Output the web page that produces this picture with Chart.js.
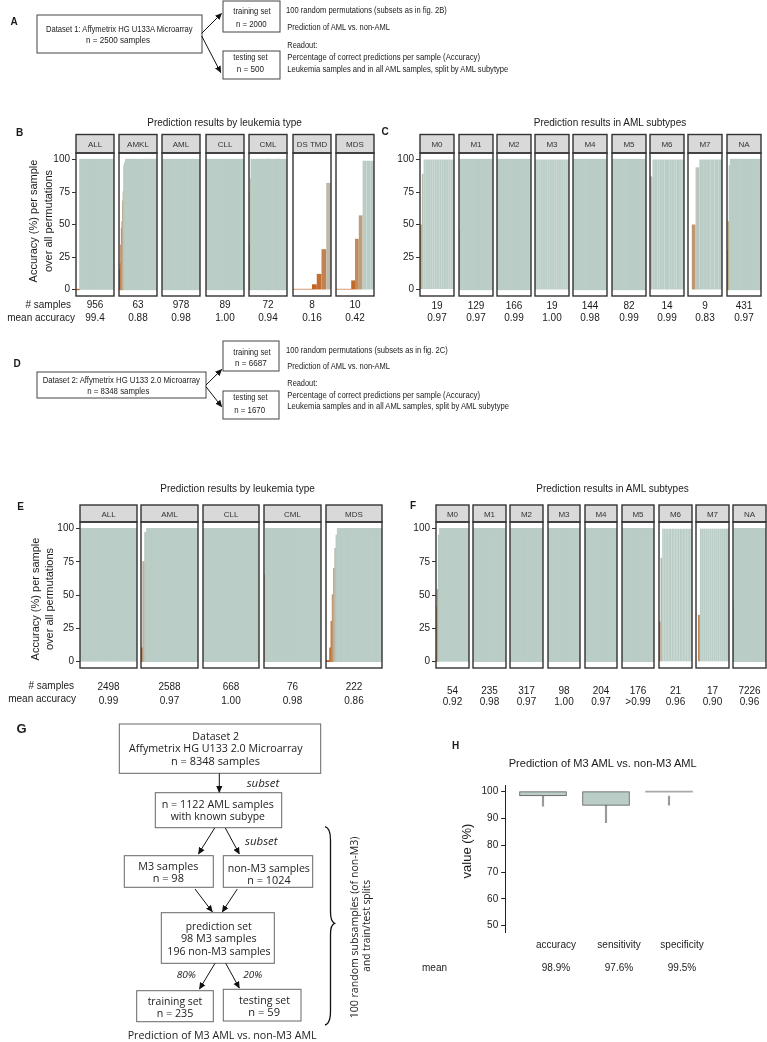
<!DOCTYPE html>
<html><head><meta charset="utf-8">
<script src="https://cdn.jsdelivr.net/npm/chart.js@4.4.1/dist/chart.umd.min.js"></script>
<style>
html,body{margin:0;padding:0;background:#fff;}
#page{position:relative;width:767px;height:1042px;overflow:hidden;background:#fff;}
#page canvas{position:absolute;display:block;z-index:1;}
#overlay{position:absolute;left:0;top:0;z-index:5;pointer-events:none;}
</style></head>
<body><div id="page"><svg id="overlay" width="767" height="1042" xmlns="http://www.w3.org/2000/svg"></svg></div>
<script>
// ================= DATA =================
const yTicks = [0, 25, 50, 75, 100];

// Panel B – Dataset 1, by leukemia type (per-sample accuracy, sorted; large groups shown as a representative subset)
const bCategories = ['ALL','AMKL','AML','CLL','CML','DS TMD','MDS'];
const bSamples = ['956','63','978','89','72','8','10'];
const bMeanAcc = ['99.4','0.88','0.98','1.00','0.94','0.16','0.42'];
const bAccuracy = [
  [0,0,0,100,100,100,100,100,100,100,100,100,100,100,100,100,100,100,100,100,100,100,100,100,100,100,100,100,100,100],
  [3,15,20,34,47,52,68,75,95,97,98,100,100,100,100,100,100,100,100,100,100,100,100,100,100,100,100,100,100,100,99,100,100,100,100,100,100,100,100,100,100,100,100,100,100,100,100,100,100,100,100,100,100,100,100,100,100,100,100,100,100,100,100],
  [100,100,100,100,100,100,100,100,100,100,100,100,100,100,100,100,100,100,100,100,100,100,100,100,100,100,100,100,100,100],
  [100,100,100,100,100,100,100,100,100,100,100,100,100,100,100,100,100,100,100,100,100,100,100,100,100,100,100,100,100,100],
  [4,35,75,85,100,100,100,100,100,100,100,100,100,100,100,100,100,100,100,100,100,100,100,100,100,100,100,100,100,100,100,100,100,100,100,100,100,100,100,100,100,100,100,100,100,100,100,100,100,100,100,100,100,100,100,100,100,100,100,100,100,100,100,100,100,100,100,100,100,100,100,100],
  [0.5,0.5,0.5,0.5,4,12,31,82],
  [0.5,0.5,0.5,0.5,7,39,57,99,99,99]
];

// Panel C – Dataset 1, AML subtypes
const cCategories = ['M0','M1','M2','M3','M4','M5','M6','M7','NA'];
const cSamples = ['19','129','166','19','144','82','14','9','431'];
const cMeanAcc = ['0.97','0.97','0.99','1.00','0.98','0.99','0.99','0.83','0.97'];
const cAccuracy = [
  [50,89,100,100,100,100,100,100,100,100,100,100,100,100,100,100,100,100,100],
  [45,100,100,100,100,100,100,100,100,100,100,100,100,100,100,100,100,100,100,100,100,100,100,100,100,100,100,100,100,100],
  [100,100,100,100,100,100,100,100,100,100,100,100,100,100,100,100,100,100,100,100,100,100,100,100,100,100,100,100,100,100],
  [100,100,100,100,100,100,100,100,100,100,100,100,100,100,100,100,100,100,100],
  [100,100,100,100,100,100,100,100,100,100,100,100,100,100,100,100,100,100,100,100,100,100,100,100,100,100,100,100,100,100],
  [100,100,100,100,100,100,100,100,100,100,100,100,100,100,100,100,100,100,100,100,100,100,100,100,100,100,100,100,100,100],
  [87,100,100,100,100,100,100,100,100,100,100,100,100,100],
  [0,50,94,100,100,100,100,100,100],
  [30,52,95,100,100,100,100,100,100,100,100,100,100,100,100,100,100,100,100,100,100,100,100,100,100,100,100,100,100,100]
];

// Panel E – Dataset 2, by leukemia type
const eCategories = ['ALL','AML','CLL','CML','MDS'];
const eSamples = ['2498','2588','668','76','222'];
const eMeanAcc = ['0.99','0.97','1.00','0.98','0.86'];
const eAccuracy = [
  [100,100,100,100,100,100,100,100,100,100,100,100,100,100,100,100,100,100,100,100,100,100,100,100,100,100,100,100,100,100],
  [10,75,97,100,100,100,100,100,100,100,100,100,100,100,100,100,100,100,100,100,100,100,100,100,100,100,100,100,100,100],
  [100,100,100,100,100,100,100,100,100,100,100,100,100,100,100,100,100,100,100,100,100,100,100,100,100,100,100,100,100,100],
  [65,100,100,100,100,100,100,100,100,100,100,100,100,100,100,100,100,100,100,100,100,100,100,100,100,100,100,100,100,100,100,100,100,100,100,100,100,100],
  [0.3,0.3,0.3,10,30,50,70,85,95,100,100,100,100,100,100,100,100,100,100,100,100,100,100,100,100,100,100,100,100,100,100,100,100,100,100,100,100,100,100,100,100,100,100,100]
];

// Panel F – Dataset 2, AML subtypes
const fCategories = ['M0','M1','M2','M3','M4','M5','M6','M7','NA'];
const fSamples = ['54','235','317','98','204','176','21','17','7226'];
const fMeanAcc = ['0.92','0.98','0.97','1.00','0.97','>0.99','0.96','0.90','0.96'];
const fAccuracy = [
  [41,54,95,100,100,100,100,100,100,100,100,100,100,100,100,100,100,100,100,100,100,100,100,100,100,100,100],
  [100,100,100,100,100,100,100,100,100,100,100,100,100,100,100,100,100,100,100,100,100,100,100,100,100,100,100,100,100,100],
  [100,100,100,100,100,100,100,100,100,100,100,100,100,100,100,100,100,100,100,100,100,100,100,100,100,100,100,100,100,100],
  [100,100,100,100,100,100,100,100,100,100,100,100,100,100,100,100,100,100,100,100,100,100,100,100,100,100,100,100,100,100],
  [100,100,100,100,100,100,100,100,100,100,100,100,100,100,100,100,100,100,100,100,100,100,100,100,100,100,100,100,100,100],
  [100,100,100,100,100,100,100,100,100,100,100,100,100,100,100,100,100,100,100,100,100,100,100,100,100,100,100,100,100,100],
  [30,78,100,100,100,100,100,100,100,100,100,100,100,100,100,100,100,100,100,100,100],
  [0,35,100,100,100,100,100,100,100,100,100,100,100,100,100,100,100],
  [45,100,100,100,100,100,100,100,100,100,100,100,100,100,100,100,100,100,100,100,100,100,100,100,100,100,100,100,100,100]
];

// Panel H – M3 vs non-M3 box plot
const hCategories = ['accuracy','sensitivity','specificity'];
const hBoxLow = [98.4, 94.9, 99.8];
const hBoxHigh = [100, 100, 100.2];
const hWhiskerLow = [94.6, 88.4, 95.0];
const hWhiskerHigh = [98.4, 94.9, 98.4];
const hMeans = ['98.9%','97.6%','99.5%'];
const hTicks = [50, 60, 70, 80, 90, 100];

// ================= DRAWING =================
const FONT = "Liberation Sans, Arial, Helvetica, sans-serif";
Chart.defaults.font.family = FONT;
const page = document.getElementById('page');
const svg = [];
function esc(s){return String(s).replace(/&/g,'&amp;').replace(/</g,'&lt;').replace(/>/g,'&gt;');}
function txt(x,y,s,o={}){
  const a=[`x="${x}"`,`y="${y}"`,`dominant-baseline="central"`,`text-anchor="${o.anchor||'middle'}"`,
    `font-size="${o.size||10}"`,`font-family="${o.family||FONT}"`,`fill="${o.fill||'#1a1a1a'}"`];
  if(o.weight) a.push(`font-weight="${o.weight}"`);
  if(o.style) a.push(`font-style="${o.style}"`);
  if(o.len) a.push(`textLength="${o.len}" lengthAdjust="spacingAndGlyphs"`);
  if(o.rot) a.push(`transform="rotate(${o.rot} ${x} ${y})"`);
  svg.push(`<text ${a.join(' ')}>${esc(s)}</text>`);
}
function rect(x,y,w,h,o={}){
  svg.push(`<rect x="${x}" y="${y}" width="${w}" height="${h}" fill="${o.fill||'none'}" stroke="${o.stroke||'#444'}" stroke-width="${o.sw||1}"/>`);
}
function arrow(x1,y1,x2,y2){
  svg.push(`<line x1="${x1}" y1="${y1}" x2="${x2}" y2="${y2}" stroke="#111" stroke-width="1" marker-end="url(#ah)"/>`);
}
const C0=[196,96,28], C1=[186,205,198];
function accColor(v){
  const t=Math.max(0,Math.min(1,v/100));
  const c=C0.map((a,i)=>Math.round(a+(C1[i]-a)*t));
  return `rgb(${c[0]},${c[1]},${c[2]})`;
}

function facetGroup(cats, counts, means, acc, L){
  for(let i=0;i<cats.length;i++){
    const l=Math.round(L.left0+i*L.step), r=Math.round(L.left0+i*L.step+L.w), w=r-l;
    const top=Math.round(L.panelTop), bot=Math.round(L.panelBottom), h=bot-top;
    const first=i===0, AX=44;
    const cl=first?l-AX:l, cw=first?w+AX:w;
    const cv=document.createElement('canvas');
    cv.width=cw; cv.height=h;
    Object.assign(cv.style,{left:cl+'px',top:top+'px',width:cw+'px',height:h+'px'});
    page.appendChild(cv);
    const vals=acc[i];
    new Chart(cv,{
      type:'bar',
      data:{labels:vals.map((v,k)=>k+1),datasets:[{data:vals,backgroundColor:vals.map(accColor),borderWidth:0,
        barPercentage:1,categoryPercentage:1,inflateAmount:L.seams.includes(i)?0:0.6}]},
      options:{responsive:false,animation:false,devicePixelRatio:1,events:[],layout:{padding:0},
        plugins:{legend:{display:false},tooltip:{enabled:false}},
        scales:{
          x:{display:false,offset:true},
          y:{display:first,min:-5,max:105,position:'left',
            afterBuildTicks:s=>{s.ticks=yTicks.map(v=>({value:v}));},
            afterFit:s=>{s.width=first?AX:0;s.paddingTop=0;s.paddingBottom=0;},
            ticks:{font:{size:10,family:FONT},color:'#222',padding:2},
            grid:{drawOnChartArea:false,drawTicks:true,tickLength:4,color:'#333',lineWidth:1},
            border:{display:false}}
        }}
    });
    rect(l,L.stripTop,w,top-L.stripTop,{fill:'#d9d9d9',stroke:'#333',sw:1.4});
    rect(l,top,w,h,{stroke:'#333',sw:1.4});
    txt(l+w/2,(L.stripTop+top)/2+0.5,cats[i],{size:8,fill:'#333'});
    txt(l+w/2,L.countY,counts[i],{size:10});
    txt(l+w/2,L.meanY,means[i],{size:10});
  }
}

facetGroup(bCategories,bSamples,bMeanAcc,bAccuracy,{left0:75.5,step:43.4,w:38,stripTop:134.5,panelTop:153,panelBottom:296,countY:304.3,meanY:317.3,seams:[5,6]});
facetGroup(cCategories,cSamples,cMeanAcc,cAccuracy,{left0:420.2,step:38.3,w:34,stripTop:134.5,panelTop:153,panelBottom:296,countY:305,meanY:317.5,seams:[0,3,6,7]});
facetGroup(eCategories,eSamples,eMeanAcc,eAccuracy,{left0:80,step:61.4,w:56.5,stripTop:505,panelTop:522,panelBottom:668,countY:686.7,meanY:700,seams:[]});
facetGroup(fCategories,fSamples,fMeanAcc,fAccuracy,{left0:436,step:37.17,w:32.5,stripTop:505,panelTop:522,panelBottom:668,countY:690,meanY:701.3,seams:[6,7]});

// Titles, axis titles, row labels
txt(224.5,122.7,'Prediction results by leukemia type',{size:10});
txt(610,122.7,'Prediction results in AML subtypes',{size:10});
txt(237.5,488.3,'Prediction results by leukemia type',{size:10});
txt(612.5,488.3,'Prediction results in AML subtypes',{size:10});
txt(33,221,'Accuracy (%) per sample',{size:11,rot:-90});
txt(48,221,'over all permutations',{size:11,rot:-90});
txt(35,599,'Accuracy (%) per sample',{size:11,rot:-90});
txt(49,599,'over all permutations',{size:11,rot:-90});
txt(71,304.3,'# samples',{size:10,anchor:'end'});
txt(75,317.3,'mean accuracy',{size:10,anchor:'end'});
txt(74,685,'# samples',{size:10,anchor:'end'});
txt(76,698.3,'mean accuracy',{size:10,anchor:'end'});

// Panel letters
txt(14,21,'A',{size:10,weight:'bold'});
txt(19.5,132,'B',{size:10,weight:'bold'});
txt(385,131,'C',{size:10,weight:'bold'});
txt(17,363.5,'D',{size:10,weight:'bold'});
txt(20.5,506,'E',{size:10,weight:'bold'});
txt(413,505.8,'F',{size:10,weight:'bold'});
txt(21.5,728.5,'G',{size:13,weight:'bold'});
txt(455.5,745,'H',{size:10,weight:'bold'});

// Panel A diagram
const DF = "Liberation Sans, Arial, sans-serif";
rect(37,15,165,38); rect(223,1,57,31); rect(223,51,57,28);
txt(119.3,28.3,'Dataset 1: Affymetrix HG U133A Microarray',{size:9.5,family:DF,len:146.7});
txt(118,39.3,'n = 2500 samples',{size:9.5,family:DF,len:64});
txt(252,10.7,'training set',{size:9.5,family:DF,len:37.3});
txt(251.3,23.3,'n = 2000',{size:9.5,family:DF,len:30.7});
txt(250.5,56,'testing set',{size:9.5,family:DF,len:34.3});
txt(250.3,68.3,'n = 500',{size:9.5,family:DF,len:27.3});
arrow(201.7,33.3,221.5,13.5); arrow(201.7,36,220.7,72.5);
txt(286,9.3,'100 random permutations (subsets as in fig. 2B)',{size:9.5,family:DF,anchor:'start',len:160.7});
txt(287.3,26.7,'Prediction of AML vs. non-AML',{size:9.5,family:DF,anchor:'start',len:102.7});
txt(287.3,44,'Readout:',{size:9.5,family:DF,anchor:'start',len:30});
txt(287.3,56.7,'Percentage of correct predictions per sample (Accuracy)',{size:9.5,family:DF,anchor:'start',len:192.7});
txt(287.3,68.3,'Leukemia samples and in all AML samples, split by AML subytype',{size:9.5,family:DF,anchor:'start',len:221});

// Panel D diagram
rect(37,372,169,26); rect(223,341,56,30); rect(223,391,56,28);
txt(121.3,379.3,'Dataset 2: Affymetrix HG U133 2.0 Microarray',{size:9.5,family:DF,len:157.3});
txt(118.3,390.7,'n = 8348 samples',{size:9.5,family:DF,len:62});
txt(252,351,'training set',{size:9.5,family:DF,len:37.3});
txt(250.8,362.7,'n = 6687',{size:9.5,family:DF,len:31.7});
txt(250.5,396.7,'testing set',{size:9.5,family:DF,len:34.3});
txt(249.7,409,'n = 1670',{size:9.5,family:DF,len:30.7});
arrow(206,385,221.7,369.5); arrow(206,386.7,221.7,406.7);
txt(286,349.3,'100 random permutations (subsets as in fig. 2C)',{size:9.5,family:DF,anchor:'start',len:161.7});
txt(287.3,365,'Prediction of AML vs. non-AML',{size:9.5,family:DF,anchor:'start',len:102.7});
txt(287.3,382.7,'Readout:',{size:9.5,family:DF,anchor:'start',len:30});
txt(287.3,394.3,'Percentage of correct predictions per sample (Accuracy)',{size:9.5,family:DF,anchor:'start',len:192.7});
txt(287.3,405.7,'Leukemia samples and in all AML samples, split by AML subytype',{size:9.5,family:DF,anchor:'start',len:221.7});

// Panel G diagram
const GF = "Open Sans, Noto Sans, sans-serif";
const gs = {family:GF,size:11,fill:'#222'};
rect(119.3,724,201.4,49.3,{stroke:'#666'});
rect(155.3,792.7,126.4,35,{stroke:'#666'});
rect(124.3,855.7,89,31.6,{stroke:'#666'});
rect(223.3,855.7,89.4,31.6,{stroke:'#666'});
rect(161.3,912.7,113,50.6,{stroke:'#666'});
rect(136.7,990.7,76.6,31,{stroke:'#666'});
rect(223.3,989.3,77.7,31.7,{stroke:'#666'});
arrow(219.3,773.3,219.3,792.2);
arrow(214.7,828,198.5,853.8); arrow(225.3,828,239.3,853.8);
arrow(195,889,212.3,911.8); arrow(237.3,889,222.3,911.8);
arrow(215,963.3,199.5,989); arrow(225.7,963.3,239.3,988);
txt(215.7,735,'Dataset 2',{...gs,len:46.7});
txt(215.8,747.7,'Affymetrix HG U133 2.0 Microarray',{...gs,len:173.7});
txt(215.5,760,'n = 8348 samples',{...gs,len:89});
txt(263,782.3,'subset',{...gs,style:'italic',len:32.7});
txt(217.8,803.3,'n = 1122 AML samples',{...gs,len:112.3});
txt(217.8,815.7,'with known subype',{...gs,len:94.3});
txt(261.3,840.7,'subset',{...gs,style:'italic',len:32.7});
txt(168.3,865.7,'M3 samples',{...gs,len:60});
txt(168.3,877.7,'n = 98',{...gs,len:31.3});
txt(268.8,867.3,'non-M3 samples',{...gs,len:82.3});
txt(269,879.3,'n = 1024',{...gs,len:43.3});
txt(218.7,925,'prediction set',{...gs,len:66});
txt(218.8,937.3,'98 M3 samples',{...gs,len:75.7});
txt(219,950,'196 non-M3 samples',{...gs,len:103.3});
txt(186.3,974,'80%',{...gs,size:9.5,style:'italic',len:19.3});
txt(252.8,974,'20%',{...gs,size:9.5,style:'italic',len:19});
txt(175,1000,'training set',{...gs,len:54.7});
txt(175,1012.7,'n = 235',{...gs,len:36.7});
txt(264.5,999.3,'testing set',{...gs,len:51});
txt(264.2,1011.7,'n = 59',{...gs,len:31.7});
txt(222.2,1034.3,'Prediction of M3 AML vs. non-M3 AML',{...gs,len:189});
svg.push(`<path d="M325 826.7 Q330.5 828 330.5 840 L330.5 912 Q330.5 921.5 334.5 923.3 Q330.5 925 330.5 934 L330.5 1011 Q330.5 1023.5 325 1025" fill="none" stroke="#111" stroke-width="1.3"/>`);
txt(353.3,927.5,'100 random subsamples (of non-M3)',{...gs,rot:-90,len:181.7});
txt(366,925.8,'and train/test splits',{...gs,rot:-90,len:91.7});

// Panel H
txt(602.7,762.7,'Prediction of M3 AML vs. non-M3 AML',{size:11,len:188});
txt(466.7,851,'value (%)',{size:13,rot:-90});
txt(434.5,967,'mean',{size:10});
const hc=document.createElement('canvas');
const HL=425,HT=775,HW=300,HH=190;
hc.width=HW;hc.height=HH;
Object.assign(hc.style,{left:HL+'px',top:HT+'px',width:HW+'px',height:HH+'px'});
page.appendChild(hc);
const hAreaLeft=505.2, hAreaTop=785, hAreaRight=706.8, hAreaBottom=932.4, hLabelShift=13;
new Chart(hc,{
  type:'bar',
  data:{datasets:[
    {data:hCategories.map((c,i)=>({x:i+1,y:[hBoxLow[i],hBoxHigh[i]]})),
     backgroundColor:['#bacdc6','#bacdc6','#a9a9a9'],borderColor:['#5a5a5a','#5a5a5a','rgba(0,0,0,0)'],
     borderWidth:[1,1,0],borderSkipped:false,barThickness:47,grouped:false,order:0},
    {data:hCategories.map((c,i)=>({x:i+1,y:[hWhiskerLow[i],hWhiskerHigh[i]]})),
     backgroundColor:'#9a9a9a',borderWidth:0,barThickness:1.5,grouped:false,order:1}
  ]},
  options:{responsive:false,animation:false,devicePixelRatio:1,events:[],
    layout:{padding:{left:0,top:hAreaTop-HT,right:HL+HW-hAreaRight,bottom:0}},
    plugins:{legend:{display:false},tooltip:{enabled:false}},
    scales:{
      x:{type:'linear',min:0.4,max:3.6,offset:false,
        afterBuildTicks:s=>{s.ticks=hCategories.map((c,i)=>({value:i+1}));},
        afterFit:s=>{s.height=HT+HH-hAreaBottom;s.paddingLeft=0;s.paddingRight=0;},
        ticks:{callback:v=>hCategories[v-1]||'',font:{size:10,family:FONT},color:'#222',padding:7,maxRotation:0,autoSkip:false,labelOffset:hLabelShift},
        grid:{display:false,drawTicks:false,offset:false},border:{display:false}},
      y:{min:47.5,max:102.5,
        afterBuildTicks:s=>{s.ticks=hTicks.map(v=>({value:v}));},
        afterFit:s=>{s.width=hAreaLeft-HL;s.paddingTop=0;s.paddingBottom=0;},
        ticks:{font:{size:10,family:FONT},color:'#222',padding:3},
        grid:{drawOnChartArea:false,drawTicks:true,tickLength:4,color:'#222'},
        border:{display:true,color:'#222',width:1}}
    }}
});
const hStep=(hAreaRight-hAreaLeft)/3.2;
hMeans.forEach((m,i)=>txt(hAreaLeft+(i+0.6)*hStep+hLabelShift,967,m,{size:10}));

const defs=`<defs><marker id="ah" viewBox="0 0 10 10" refX="9" refY="5" markerUnits="userSpaceOnUse" markerWidth="7" markerHeight="7" orient="auto"><path d="M0,0.5 L10,5 L0,9.5 z" fill="#111"/></marker></defs>`;
document.getElementById('overlay').innerHTML=defs+svg.join('');
</script>
</body></html>
